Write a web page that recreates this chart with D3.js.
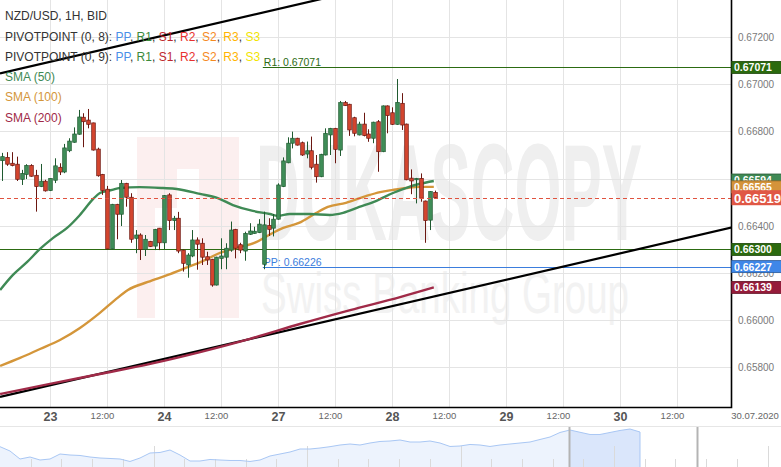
<!DOCTYPE html>
<html>
<head>
<meta charset="utf-8">
<title>NZD/USD 1H</title>
<script src="https://d3js.org/d3.v7.min.js"></script>
<style>
  body { margin: 0; background: #fff; }
  svg { display: block; font-family: "Liberation Sans", Arial, sans-serif; }
</style>
</head>
<body>
<svg width="781" height="467"></svg>
<script>
// hourly candles; slot 0 = 23 Jul 00:00, weekend hours squeezed out
var firstSlot = -10;
var opens = [0.66676,0.66690,0.66665,0.66661,0.66597,0.66618,0.66656,0.66614,0.66566,0.66589,
  0.66549,0.66593,0.66648,0.66628,0.66718,0.66754,0.66788,0.66860,0.66848,0.66836,
  0.66725,0.66618,0.66555,0.66302,0.66491,0.66449,0.66580,0.66521,0.66347,0.66361,
  0.66300,0.66334,0.66314,0.66390,0.66328,0.66531,0.66422,0.66432,0.66297,0.66234,
  0.66272,0.66340,0.66326,0.66269,0.66258,0.66149,0.66262,0.66267,0.66297,0.66385,
  0.66320,0.66293,0.66364,0.66368,0.66371,0.66237,0.66401,0.66390,0.66428,0.66566,
  0.66667,0.66750,0.66771,0.66752,0.66704,0.66718,0.66661,0.66608,0.66700,0.66785,
  0.66813,0.66721,0.66922,0.66915,0.66858,0.66785,0.66831,0.66789,0.66771,0.66841,
  0.66714,0.66908,0.66879,0.66830,0.66919,0.66831,0.66602,0.66595,0.66601,0.66505,
  0.66424,0.66541];
var highs = [0.66709,0.66712,0.66712,0.66693,0.66637,0.66661,0.66661,0.66637,0.66662,0.66595,
  0.66601,0.66686,0.66665,0.66747,0.66771,0.66817,0.66891,0.66877,0.66895,0.66837,
  0.66731,0.66620,0.66569,0.66493,0.66493,0.66594,0.66582,0.66538,0.66382,0.66368,
  0.66361,0.66336,0.66387,0.66391,0.66530,0.66538,0.66442,0.66459,0.66299,0.66284,
  0.66382,0.66351,0.66347,0.66290,0.66260,0.66269,0.66347,0.66326,0.66418,0.66387,
  0.66328,0.66375,0.66411,0.66396,0.66428,0.66460,0.66432,0.66450,0.66580,0.66690,
  0.66775,0.66799,0.66773,0.66757,0.66757,0.66778,0.66700,0.66705,0.66813,0.66815,
  0.66815,0.66929,0.66929,0.66917,0.66862,0.66841,0.66879,0.66809,0.66841,0.66848,
  0.66910,0.66910,0.66902,0.67022,0.66962,0.66833,0.66639,0.66603,0.66622,0.66507,
  0.66547,0.66549];
var lows = [0.66590,0.66654,0.66652,0.66590,0.66573,0.66598,0.66608,0.66460,0.66564,0.66545,
  0.66547,0.66581,0.66615,0.66623,0.66712,0.66752,0.66786,0.66733,0.66813,0.66719,
  0.66608,0.66531,0.66300,0.66300,0.66343,0.66399,0.66481,0.66328,0.66284,0.66255,
  0.66272,0.66310,0.66297,0.66297,0.66300,0.66382,0.66382,0.66284,0.66206,0.66180,
  0.66267,0.66214,0.66234,0.66234,0.66142,0.66147,0.66216,0.66216,0.66290,0.66262,
  0.66284,0.66252,0.66361,0.66366,0.66369,0.66216,0.66357,0.66355,0.66426,0.66564,
  0.66665,0.66728,0.66740,0.66696,0.66686,0.66639,0.66583,0.66606,0.66698,0.66700,
  0.66665,0.66696,0.66908,0.66781,0.66779,0.66783,0.66779,0.66756,0.66750,0.66629,
  0.66712,0.66792,0.66827,0.66828,0.66806,0.66593,0.66534,0.66495,0.66502,0.66328,
  0.66382,0.66515];
var closes = [0.66693,0.66661,0.66655,0.66597,0.66622,0.66656,0.66610,0.66566,0.66589,0.66548,
  0.66601,0.66654,0.66628,0.66730,0.66759,0.66789,0.66861,0.66841,0.66830,0.66721,
  0.66612,0.66549,0.66302,0.66491,0.66449,0.66580,0.66521,0.66343,0.66361,0.66300,
  0.66343,0.66312,0.66385,0.66328,0.66528,0.66422,0.66432,0.66293,0.66241,0.66276,
  0.66340,0.66322,0.66267,0.66255,0.66149,0.66267,0.66272,0.66305,0.66382,0.66305,
  0.66297,0.66368,0.66378,0.66377,0.66407,0.66404,0.66385,0.66428,0.66573,0.66675,
  0.66750,0.66771,0.66742,0.66700,0.66718,0.66648,0.66608,0.66703,0.66792,0.66813,
  0.66724,0.66922,0.66909,0.66806,0.66792,0.66831,0.66782,0.66771,0.66839,0.66714,
  0.66908,0.66867,0.66830,0.66923,0.66827,0.66595,0.66590,0.66601,0.66517,0.66422,
  0.66545,0.66519];

// moving averages: [slot, price]
var sma50 = [[-10.5,0.66128],[-7.8,0.66192],[-4.8,0.66247],[-2.1,0.66302],[0.6,0.66348],
  [3.6,0.66391],[6.3,0.66446],[9.1,0.66514],[10.5,0.66539],[13.1,0.66552],[14.7,0.66560],
  [18.9,0.66564],[23.8,0.66560],[26.7,0.66556],[31.6,0.66535],[35.2,0.66518],[38.5,0.66488],
  [42.7,0.66463],[46.3,0.66450],[48,0.66442],[50.5,0.66450],[54.7,0.66450],[58.9,0.66446],
  [61.7,0.66455],[65.1,0.66480],[68.6,0.66505],[72.2,0.66539],[74.9,0.66560],[77.7,0.66577],
  [80.8,0.66590]];
var sma100 = [[-10.5,0.65806],[-6.3,0.65840],[-2.1,0.65878],[2.1,0.65916],[6.3,0.65967],
  [10.5,0.66031],[13.7,0.66086],[16.4,0.66128],[20.6,0.66162],[24.8,0.66192],[29.1,0.66226],
  [31.8,0.66247],[35.8,0.66285],[39.2,0.66306],[43.4,0.66331],[46.1,0.66361],[49.1,0.66391],
  [52.4,0.66412],[56,0.66454],[58.5,0.66480],[62.3,0.66497],[66.5,0.66526],[69.5,0.66543],
  [72.2,0.66552],[75,0.66560],[77.9,0.66565],[80.8,0.66565]];
var sma200 = [[-10.5,0.65687],[0,0.65730],[10.5,0.65772],[21.1,0.65815],[31.6,0.65865],
  [42.1,0.65921],[52.6,0.65984],[63.2,0.66043],[73.7,0.66098],[80.8,0.66139]];

// trend lines: two points each [slot, price]
var trendLines = [
  [[-10.53,0.67046],[70,0.67421]],
  [[-10.53,0.65675],[143.4,0.66392]]
];

var lastPrice = 0.66519;
var pivotLevels = [
  {value: 0.67071, from: 44.8, label: "R1: 0.67071", color: "#2c6b12"},
  {value: 0.66227, from: 44.8, label: "PP: 0.66226", color: "#3b7ddd"},
  {value: 0.66300, from: -10.6, label: "", color: "#2c6b12"}
];
var axisMarks = [
  {value: 0.67071, color: "#2b6a0e"},
  {value: 0.66594, color: "#3f8a55"},
  {value: 0.66565, color: "#d4933a"},
  {value: 0.66519, color: "#e05745", big: true},
  {value: 0.66300, color: "#2b6a0e"},
  {value: 0.66227, color: "#3f87e8"},
  {value: 0.66139, color: "#951c3a"}
];

var yTicks = [0.658, 0.660, 0.662, 0.664, 0.666, 0.668, 0.670, 0.672];
var xTickSlots = [0, 12, 24, 36, 48, 60, 72, 84, 96, 108, 120, 132];
var xTickLabels = ["23","12:00","24","12:00","27","12:00","28","12:00","29","12:00","30","12:00"];
var dateLabel = "30.07.2020";

var pivotNames = ["PP","R1","S1","R2","S2","R3","S3"];
var pivotColors = ["#4a8fe7","#3b8a3b","#c0282d","#e8322f","#f58a1f","#ffb400","#f2e400"];
var smaNames = ["SMA (50)","SMA (100)","SMA (200)"];
var smaColors = ["#3f8a55","#d4963a","#a02a48"];

// navigator history line
var navValues = [0.6308,0.6200,0.6000,0.6050,0.5975,0.6000,0.6125,0.6100,0.6088,0.6050,
  0.6025,0.6013,0.6000,0.5938,0.6025,0.6150,0.6163,0.6225,0.6100,0.5950,
  0.5950,0.5988,0.5975,0.5963,0.5963,0.5938,0.5975,0.6075,0.6125,0.6175,
  0.6250,0.6250,0.6275,0.6308,0.6350,0.6375,0.6350,0.6400,0.6438,0.6450,
  0.6475,0.6425,0.6425,0.6450,0.6400,0.6313,0.6325,0.6363,0.6350,0.6313,
  0.6350,0.6375,0.6400,0.6425,0.6488,0.6550,0.6663,0.6725,0.6668,0.6613,
  0.6613,0.6663,0.6713,0.6750,0.6675];
var navSelStart = 57;

var svg = d3.select("svg"),
    plotW = 731,
    plotH = 407;

var x = d3.scaleLinear().domain([0, 132]).range([50, 677]);
var y = d3.scaleLinear().domain([0.672, 0.658]).range([37, 367.4]);

svg.append("defs").append("clipPath").attr("id", "plotclip")
   .append("rect").attr("width", plotW).attr("height", plotH);

var plot = svg.append("g").attr("clip-path", "url(#plotclip)");

// watermark
var wm = plot.append("g");
wm.append("rect").attr("x", 137).attr("y", 137).attr("width", 102).attr("height", 181).attr("fill", "#fcefef");
wm.append("rect").attr("x", 177).attr("y", 169).attr("width", 22).attr("height", 149).attr("fill", "#fff");
wm.append("rect").attr("x", 155).attr("y", 208).attr("width", 22).attr("height", 110).attr("fill", "#fff");
wm.append("text").attr("x", 256).attr("y", 240).attr("font-size", 138).attr("font-weight", "bold")
  .attr("textLength", 386).attr("lengthAdjust", "spacingAndGlyphs").attr("fill", "#efefef").text("DUKASCOPY");
wm.append("text").attr("x", 261).attr("y", 313).attr("font-size", 58)
  .attr("textLength", 368).attr("lengthAdjust", "spacingAndGlyphs").attr("fill", "#f2f2f2").text("Swiss Banking Group");

// grid
plot.append("g").selectAll("line").data(yTicks).enter().append("line")
  .attr("x1", 0).attr("x2", plotW)
  .attr("y1", function(d) { return Math.round(y(d)) + 0.5; })
  .attr("y2", function(d) { return Math.round(y(d)) + 0.5; })
  .attr("stroke", "#e4e4e4");
plot.append("g").selectAll("line").data(xTickSlots).enter().append("line")
  .attr("y1", 0).attr("y2", plotH)
  .attr("x1", function(d) { return Math.round(x(d)) + 0.5; })
  .attr("x2", function(d) { return Math.round(x(d)) + 0.5; })
  .attr("stroke", "#e4e4e4");

// pivot levels
pivotLevels.forEach(function(p) {
  var yy = Math.round(y(p.value)) + 0.5;
  plot.append("line").attr("x1", x(p.from)).attr("x2", plotW).attr("y1", yy).attr("y2", yy)
    .attr("stroke", p.color).attr("stroke-width", 1);
  if (p.label) {
    plot.append("text").attr("x", x(p.from) + 1).attr("y", yy - 2).attr("font-size", 10.5)
      .attr("fill", p.color).text(p.label);
  }
});

// trend lines
plot.append("g").selectAll("line").data(trendLines).enter().append("line")
  .attr("x1", function(d) { return x(d[0][0]); })
  .attr("y1", function(d) { return y(d[0][1]); })
  .attr("x2", function(d) { return x(d[1][0]); })
  .attr("y2", function(d) { return y(d[1][1]); })
  .attr("stroke", "#000").attr("stroke-width", 2.2);

// moving averages
var line = d3.line().x(function(d) { return x(d[0]); }).y(function(d) { return y(d[1]); }).curve(d3.curveMonotoneX);
[sma200, sma100, sma50].forEach(function(s, i) {
  plot.append("path").datum(s).attr("d", line).attr("fill", "none")
    .attr("stroke", [smaColors[2], smaColors[1], smaColors[0]][i]).attr("stroke-width", 2.4);
});

// candles
var candles = opens.map(function(o, i) {
  return {slot: firstSlot + i, o: o, h: highs[i], l: lows[i], c: closes[i]};
});
var cg = plot.append("g");
candles.forEach(function(d) {
  var up = d.c >= d.o;
  var cx = Math.round(x(d.slot)) + 0.5;
  cg.append("line").attr("x1", cx).attr("x2", cx).attr("y1", y(d.h)).attr("y2", y(d.l))
    .attr("stroke", up ? "#1f5a30" : "#6b1711").attr("stroke-width", 1);
  var top = y(Math.max(d.o, d.c)), bot = y(Math.min(d.o, d.c));
  cg.append("rect").attr("x", cx - 1.8).attr("width", 3.6)
    .attr("y", top).attr("height", Math.max(1.2, bot - top))
    .attr("fill", up ? "#3f8d58" : "#d3452f")
    .attr("stroke", up ? "#1f5a30" : "#6b1711").attr("stroke-width", 0.7);
});

// last price line
plot.append("line").attr("x1", 0).attr("x2", plotW)
  .attr("y1", Math.round(y(lastPrice)) + 0.5).attr("y2", Math.round(y(lastPrice)) + 0.5)
  .attr("stroke", "#e0533f").attr("stroke-dasharray", "4,3");

// frame
svg.append("path").attr("d", "M0," + (plotH + 0.5) + "H" + (plotW + 0.5) + "V0")
  .attr("fill", "none").attr("stroke", "#000").attr("stroke-width", 1.6);

// right axis
var yAxis = svg.append("g").attr("transform", "translate(" + (plotW + 4) + ",0)")
  .call(d3.axisRight(y).tickValues(yTicks).tickSize(0).tickFormat(d3.format(".5f")));
yAxis.select(".domain").remove();
yAxis.selectAll("text").attr("font-size", 10).attr("fill", "#7a7a7a")
  .attr("font-family", "Liberation Sans, Arial, sans-serif");

// axis value boxes
axisMarks.forEach(function(m) {
  var h = m.big ? 15 : 12, yy = y(m.value);
  svg.append("rect").attr("x", plotW + 0.5).attr("y", yy - h / 2).attr("width", 50).attr("height", h)
    .attr("fill", m.color).attr("stroke", d3.color(m.color).darker(1.2)).attr("stroke-width", m.big ? 0 : 0.8);
  svg.append("text").attr("x", plotW + 3).attr("y", yy + (m.big ? 5 : 4))
    .attr("font-size", m.big ? 13 : 10.5).attr("font-weight", "bold").attr("fill", "#fff")
    .text(d3.format(".5f")(m.value));
});

// bottom axis
var xAxis = svg.append("g").attr("transform", "translate(0," + plotH + ")")
  .call(d3.axisBottom(x).tickValues(xTickSlots).tickSize(0)
    .tickFormat(function(d, i) { return xTickLabels[i]; }));
xAxis.select(".domain").remove();
xAxis.selectAll("text")
  .attr("font-family", "Liberation Sans, Arial, sans-serif")
  .attr("dy", null)
  .attr("y", function(d, i) { return i % 2 ? 12.3 : 13.7; })
  .attr("dx", function(d, i) { return i % 2 ? -5 : 0; })
  .attr("font-size", function(d, i) { return i % 2 ? 9.5 : 12.5; })
  .attr("font-weight", function(d, i) { return i % 2 ? "normal" : "bold"; })
  .attr("fill", function(d, i) { return i % 2 ? "#666" : "#555"; });
svg.append("text").attr("x", 755).attr("y", plotH + 12.3).attr("text-anchor", "middle")
  .attr("font-size", 9.5).attr("fill", "#666").text(dateLabel);

// navigator
var nav = svg.append("g");
var nx = d3.scaleLinear().domain([0, navValues.length - 1]).range([0, 640]);
var ny = d3.scaleLinear().domain([0.58, 0.68]).range([467, 427]);
nav.append("line").attr("x1", 0).attr("x2", 781).attr("y1", 426.5).attr("y2", 426.5).attr("stroke", "#e6e6e6");
var navArea = d3.area().x(function(d, i) { return nx(i); }).y0(467).y1(function(d) { return ny(d); });
var navLine = d3.line().x(function(d, i) { return nx(i); }).y(function(d) { return ny(d); });
nav.append("path").datum(navValues).attr("d", navArea).attr("fill", "#edf3fd");
nav.append("path").datum(navValues.slice(navSelStart))
  .attr("transform", "translate(" + (nx(navSelStart) - nx(0)) + ",0)")
  .attr("d", navArea).attr("fill", "#dae6fb");
nav.selectAll("line.nt").data(d3.range(1, 26)).enter().append("line").attr("class", "nt")
  .attr("x1", function(d) { return Math.round(d * 30.7) + 0.5; })
  .attr("x2", function(d) { return Math.round(d * 30.7) + 0.5; })
  .attr("y1", function(d) { return d % 5 ? 459 : 446; }).attr("y2", 467)
  .attr("stroke", "#dadada");
nav.append("path").datum(navValues).attr("d", navLine).attr("fill", "none")
  .attr("stroke", "#a9c7f4").attr("stroke-width", 1);
nav.append("line").attr("x1", nx(navValues.length - 1)).attr("x2", nx(navValues.length - 1))
  .attr("y1", ny(navValues[navValues.length - 1])).attr("y2", 467).attr("stroke", "#a9c7f4");
[569.5, 697.5].forEach(function(hx) {
  nav.append("line").attr("x1", hx).attr("x2", hx).attr("y1", 427).attr("y2", 467)
    .attr("stroke", "#b4b4b4").attr("stroke-width", 2);
});

// legend
var lg = svg.append("g").attr("font-size", 12);
lg.append("text").attr("x", 5).attr("y", 20).attr("fill", "#333").text("NZD/USD, 1H, BID");
["PIVOTPOINT (0, 8): ", "PIVOTPOINT (0, 9): "].forEach(function(t, r) {
  var tx = lg.append("text").attr("x", 5).attr("y", 40.5 + r * 20.3).attr("fill", "#333");
  tx.append("tspan").text(t);
  pivotNames.forEach(function(n, i) {
    tx.append("tspan").attr("fill", pivotColors[i]).text(n);
    if (i < pivotNames.length - 1) tx.append("tspan").attr("fill", "#333").text(", ");
  });
});
smaNames.forEach(function(n, i) {
  lg.append("text").attr("x", 5).attr("y", 81 + i * 20.3).attr("fill", smaColors[i]).text(n);
});
</script>
</body>
</html>
